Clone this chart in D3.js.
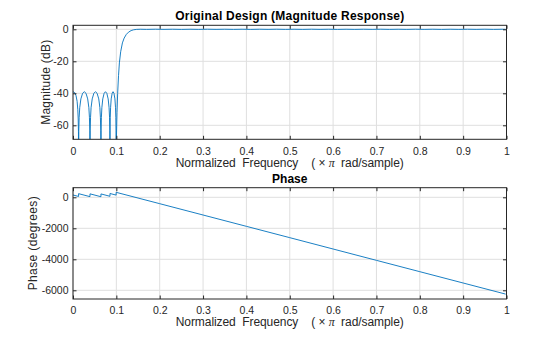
<!DOCTYPE html>
<html>
<head>
<meta charset="utf-8">
<script src="https://cdn.jsdelivr.net/npm/d3@7"></script>
<style>
  html, body { margin: 0; padding: 0; background: #fff; }
  svg { display: block; font-family: "Liberation Sans", Arial, Helvetica, sans-serif; }
</style>
</head>
<body>
<svg id="chart" width="560" height="337"></svg>
<script>
// ---------- data ----------
const xTicks = [0, 0.1, 0.2, 0.3, 0.4, 0.5, 0.6, 0.7, 0.8, 0.9, 1];
const magTicks = [0, -20, -40, -60];
const phaseTicks = [0, -2000, -4000, -6000];

const magFreq = [
  0, 0.004, 0.007, 0.0095, 0.011, 0.012, 0.0126, 0.0129,
  0.0134, 0.0142, 0.0155, 0.0182, 0.0221, 0.0260, 0.0300, 0.0339, 0.0366, 0.0379, 0.0387, 0.0392,
  0.0397, 0.0405, 0.0417, 0.0443, 0.0481, 0.0518, 0.0556, 0.0594, 0.0620, 0.0632, 0.0640, 0.0645,
  0.0649, 0.0655, 0.0666, 0.0687, 0.0718, 0.0749, 0.0780, 0.0811, 0.0832, 0.0843, 0.0849, 0.0853,
  0.0856, 0.0860, 0.0867, 0.0881, 0.0903, 0.0924, 0.0945, 0.0967, 0.0981, 0.0988, 0.0992, 0.0995,
  0.1002, 0.1015, 0.103, 0.105, 0.107, 0.110, 0.114, 0.118, 0.123, 0.128, 0.134, 0.140, 0.147,
  0.155, 0.17, 0.19, 0.21, 0.23, 0.25, 0.27, 0.29, 0.31, 0.33, 0.35, 0.37, 0.39, 0.41, 0.43,
  0.45, 0.47, 0.49, 0.51, 0.53, 0.55, 0.57, 0.59, 0.61, 0.63, 0.65, 0.67, 0.69, 0.71, 0.73,
  0.75, 0.77, 0.79, 0.81, 0.83, 0.85, 0.87, 0.89, 0.91, 0.93, 0.95, 0.97, 0.99, 0.998
];
const magDb = [
  -39, -39.6, -41.5, -45, -50, -56, -64, -120,
  -63, -55, -49, -43.5, -40, -39, -40, -43.5, -49, -55, -63, -120,
  -63, -55, -49, -43.5, -40, -39, -40, -43.5, -49, -55, -63, -120,
  -63, -55, -49, -43.5, -40, -39, -40, -43.5, -49, -55, -63, -120,
  -63, -55, -49, -43.5, -40, -39, -40, -43.5, -49, -55, -63, -120,
  -68, -52, -40, -29, -21, -14, -8.5, -5.5, -3.2, -1.8, -0.8, -0.3, -0.05,
  0.04, -0.05, 0.06, -0.04, 0.05, -0.06, 0.04, -0.05, 0.06, -0.04, 0.05, -0.05, 0.04, -0.06, 0.05,
  -0.04, 0.06, -0.05, 0.04, -0.05, 0.06, -0.04, 0.05, -0.06, 0.04, -0.05, 0.05, -0.04, 0.06, -0.05,
  0.04, -0.05, 0.06, -0.04, 0.05, -0.06, 0.04, -0.05, 0.05, -0.04, 0.06, -0.05, 0.04, -0.02
];

const phaseFreq = [
  0, 0.0129, 0.0129, 0.0392, 0.0392, 0.0645, 0.0645, 0.0853, 0.0853, 0.0995, 0.0995,
  0.2, 0.3, 0.4, 0.5, 0.6, 0.7, 0.8, 0.9, 0.998
];
const phaseDeg = [
  150, 55, 235, 43, 223, 38, 218, 66, 246, 142, 322,
  -411, -1142, -1873, -2604, -3336, -4067, -4798, -5529, -6245
];

// ---------- layout ----------
const svg = d3.select("#chart");
const left = 73, right = 506.5;
const panels = [
  { top: 25.3, bottom: 139.3, domain: [-68.75, 2.5], ticks: magTicks,
    xs: magFreq, ys: magDb, title: "Original Design (Magnitude Response)", titleLen: 229,
    ylabel: "Magnitude (dB)", ylabelLen: 85, ylabelX: 49.5, titleY: 19.5 },
  { top: 187.7, bottom: 299, domain: [-6561, 620], ticks: phaseTicks,
    xs: phaseFreq, ys: phaseDeg, title: "Phase", titleLen: null,
    ylabel: "Phase (degrees)", ylabelLen: 94, ylabelX: 37, titleY: 182.5 }
];

const x = d3.scaleLinear().domain([0, 1]).range([left, right]);
const gridColor = "#dfdfdf";
const axisColor = "#262626";
const lineColor = "#0072BD";
const tickFmt = d => String(d);

panels.forEach((p, i) => {
  const y = d3.scaleLinear().domain(p.domain).range([p.bottom, p.top]);
  const g = svg.append("g");

  // grid
  g.selectAll(".gx").data(xTicks).join("line")
    .attr("x1", d => x(d)).attr("x2", d => x(d))
    .attr("y1", p.top).attr("y2", p.bottom)
    .attr("stroke", gridColor).attr("stroke-width", 1);
  g.selectAll(".gy").data(p.ticks).join("line")
    .attr("x1", left).attr("x2", right)
    .attr("y1", d => y(d)).attr("y2", d => y(d))
    .attr("stroke", gridColor).attr("stroke-width", 1);

  // clip
  const cid = "clip" + i;
  svg.append("clipPath").attr("id", cid).append("rect")
    .attr("x", left).attr("y", p.top).attr("width", right - left).attr("height", p.bottom - p.top);

  const pts = p.xs.map((f, k) => [f, p.ys[k]]);
  g.append("path")
    .attr("clip-path", `url(#${cid})`)
    .attr("d", d3.line().x(d => x(d[0])).y(d => y(d[1]))(pts))
    .attr("fill", "none").attr("stroke", lineColor).attr("stroke-width", 0.9)
    .attr("stroke-linejoin", "round");

  // axes (ticks inward, box)
  const tickLen = 3.5;
  const axB = d3.axisBottom(x).tickValues(xTicks).tickSizeInner(-tickLen).tickSizeOuter(0)
    .tickFormat(tickFmt).tickPadding(7.8);
  const axT = d3.axisTop(x).tickValues(xTicks).tickSizeInner(-tickLen).tickSizeOuter(0).tickFormat("");
  const axL = d3.axisLeft(y).tickValues(p.ticks).tickSizeInner(-tickLen).tickSizeOuter(0)
    .tickFormat(tickFmt).tickPadding(4.5);
  const axR = d3.axisRight(y).tickValues(p.ticks).tickSizeInner(-tickLen).tickSizeOuter(0).tickFormat("");

  const styleAxis = sel => {
    sel.select(".domain").remove();
    sel.selectAll("line").attr("stroke", axisColor);
    sel.selectAll("text").attr("fill", "#262626").style("font-size", "10.5px")
      .style("font-family", "'Liberation Sans', Arial, sans-serif");
  };
  g.append("g").attr("transform", `translate(0,${p.bottom})`).call(axB).call(styleAxis);
  g.append("g").attr("transform", `translate(0,${p.top})`).call(axT).call(styleAxis);
  g.append("g").attr("transform", `translate(${left},0)`).call(axL).call(styleAxis);
  g.append("g").attr("transform", `translate(${right},0)`).call(axR).call(styleAxis);

  g.append("rect").attr("x", left).attr("y", p.top)
    .attr("width", right - left).attr("height", p.bottom - p.top)
    .attr("fill", "none").attr("stroke", axisColor).attr("stroke-width", 1);

  // title
  const t = g.append("text").attr("x", (left + right) / 2).attr("y", p.titleY)
    .attr("text-anchor", "middle").style("font-size", "12px").style("font-weight", "bold")
    .attr("fill", "#000").text(p.title);
  if (p.titleLen) t.attr("textLength", p.titleLen).attr("lengthAdjust", "spacing");

  // x label
  const xl = g.append("text").attr("x", (left + right) / 2).attr("y", p.bottom + 27.3)
    .attr("text-anchor", "middle").style("font-size", "12px").attr("fill", "#262626")
    .attr("xml:space", "preserve").style("white-space", "pre")
    .attr("textLength", 228).attr("lengthAdjust", "spacing");
  xl.append("tspan").text("Normalized  Frequency    ( \u00D7 ");
  xl.append("tspan").style("font-style", "italic").style("font-family", "'Liberation Serif', 'DejaVu Serif', serif").text("\u03C0");
  xl.append("tspan").text("  rad/sample)");

  // y label
  g.append("text")
    .attr("transform", `translate(${p.ylabelX},${(p.top + p.bottom) / 2}) rotate(-90)`)
    .attr("text-anchor", "middle").style("font-size", "12px").attr("fill", "#262626")
    .attr("textLength", p.ylabelLen).attr("lengthAdjust", "spacing")
    .text(p.ylabel);
});
</script>
</body>
</html>
